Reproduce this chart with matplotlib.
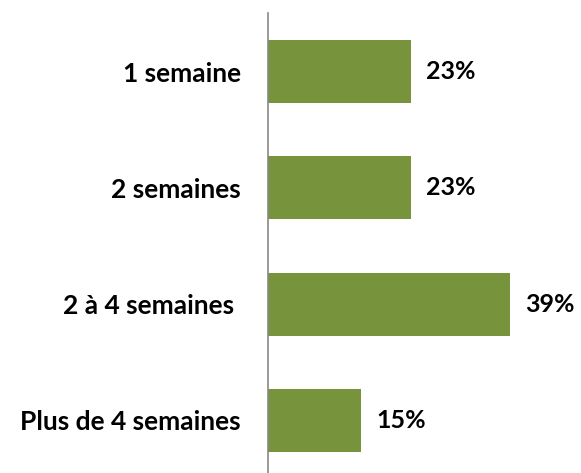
import matplotlib.pyplot as plt

# Donnees
categories = ['1 semaine', '2 semaines', '2 à 4 semaines ', 'Plus de 4 semaines']
valeurs = [23, 23, 39, 15]
etiquettes = ['23%', '23%', '39%', '15%']

plt.rcParams['font.family'] = ['Lato', 'DejaVu Sans']

fig = plt.figure(figsize=(5.81, 4.73), dpi=100)
ax = fig.add_axes([268 / 581, 0, 1 - 268 / 581, 1 - 13 / 473])

pos = range(len(categories))
ax.barh(pos, valeurs, height=0.54, color='#77933C')

for p, v, e in zip(pos, valeurs, etiquettes):
    ax.annotate(e, (v, p), xytext=(11, 0), textcoords='offset points',
                va='center', ha='left', fontsize=18, fontweight='bold',
                color='black')

ax.set_xlim(0, 50.5)
ax.set_ylim(3.452, -0.503)
ax.set_yticks(list(pos))
ax.set_yticklabels(categories, fontsize=19, fontweight='bold')
ax.tick_params(axis='y', length=0, pad=19.5)
ax.set_xticks([])

for s in ['top', 'right', 'bottom']:
    ax.spines[s].set_visible(False)
ax.spines['left'].set_color('#888888')
ax.spines['left'].set_linewidth(1.2)

fig.savefig('out.png', dpi=100)
